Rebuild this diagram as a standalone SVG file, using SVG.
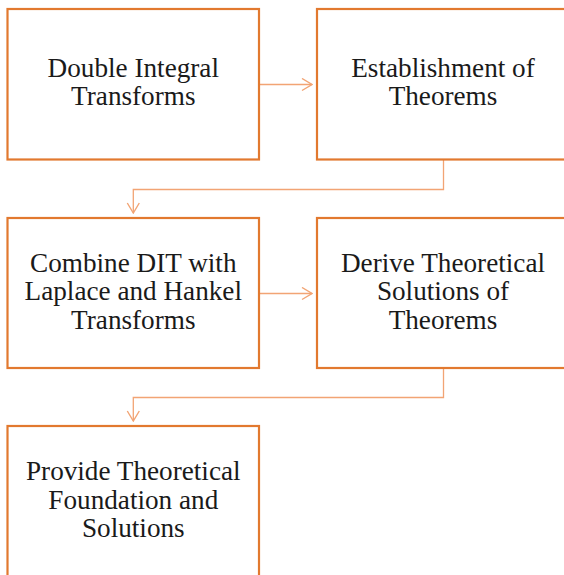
<svg xmlns="http://www.w3.org/2000/svg" width="564" height="575" viewBox="0 0 564 575">
  <style>
    .box { fill: #ffffff; stroke: #E2792F; stroke-width: 2.2; }
    .label { font-family: "Liberation Serif", "Times New Roman", serif; font-size: 27.2px; fill: #1a1a1a; text-anchor: middle; }
    .link { fill: none; stroke: #F2A474; stroke-width: 1.3; }
  </style>
  <defs>
    <marker id="arrow" viewBox="0 0 12 14" refX="11" refY="7" markerWidth="12" markerHeight="14" markerUnits="userSpaceOnUse" orient="auto">
      <path d="M1,1 L11,7 L1,13" fill="none" stroke="#F2A474" stroke-width="1.4"/>
    </marker>
  </defs>
  <rect width="564" height="575" fill="#ffffff"/>

  <g id="connectors">
    <path class="link" d="M259,84.5 H312" marker-end="url(#arrow)"/>
    <path class="link" d="M443.5,159.5 V189.5 H133.3 V213" marker-end="url(#arrow)"/>
    <path class="link" d="M259,293.5 H312" marker-end="url(#arrow)"/>
    <path class="link" d="M443.5,368 V397.5 H133.3 V421" marker-end="url(#arrow)"/>
  </g>

  <g id="node-double-integral">
    <rect class="box" x="7.5" y="9" width="251.5" height="150.5"/>
    <text class="label" x="133.3" y="77">Double Integral</text>
    <text class="label" x="133.3" y="105">Transforms</text>
  </g>

  <g id="node-establishment">
    <rect class="box" x="317" y="9" width="251.5" height="150.5"/>
    <text class="label" x="443" y="77">Establishment of</text>
    <text class="label" x="443" y="105">Theorems</text>
  </g>

  <g id="node-combine">
    <rect class="box" x="7.5" y="218" width="251.5" height="150"/>
    <text class="label" x="133.3" y="272">Combine DIT with</text>
    <text class="label" x="133.3" y="300">Laplace and Hankel</text>
    <text class="label" x="133.3" y="328.5">Transforms</text>
  </g>

  <g id="node-derive">
    <rect class="box" x="317" y="218" width="251.5" height="150"/>
    <text class="label" x="443" y="272">Derive Theoretical</text>
    <text class="label" x="443" y="300">Solutions of</text>
    <text class="label" x="443" y="328.5">Theorems</text>
  </g>

  <g id="node-provide">
    <rect class="box" x="7.5" y="426" width="251.5" height="160"/>
    <text class="label" x="133.3" y="480">Provide Theoretical</text>
    <text class="label" x="133.3" y="508.5">Foundation and</text>
    <text class="label" x="133.3" y="537">Solutions</text>
  </g>
</svg>
